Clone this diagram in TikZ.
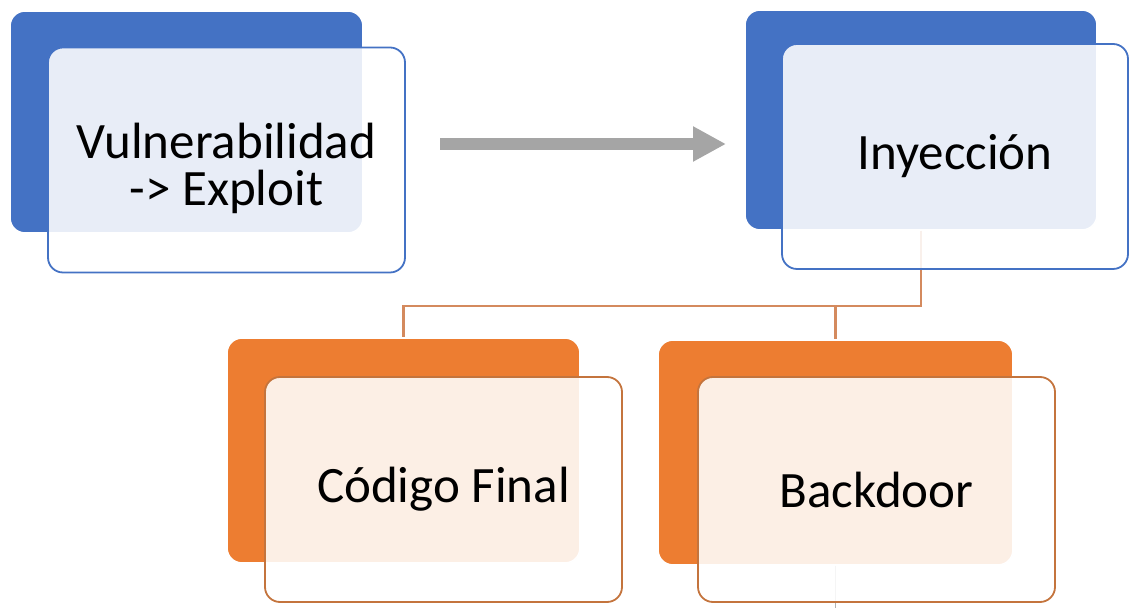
\documentclass[tikz,border=0pt]{standalone}
\usepackage{fontspec}
\setmainfont{Carlito}
\usetikzlibrary{arrows.meta,positioning}
\definecolor{accblue}{HTML}{4472C4}
\definecolor{accorange}{HTML}{ED7D31}
\definecolor{linkorange}{HTML}{D48A5E}
\definecolor{arrowgray}{HTML}{A5A5A5}
\tikzset{
  backbox/.style={rectangle,rounded corners=7.5pt,minimum width=176.5pt,minimum height=111pt,draw=white,line width=0.8pt},
  frontbox/.style={rectangle,rounded corners=7.5pt,minimum width=178.5pt,minimum height=112.5pt,fill=white,fill opacity=0.88,text opacity=1,line width=0.9pt,font=\fontsize{25.5}{23.5}\selectfont,align=center},
  link/.style={draw=linkorange,line width=1.3pt}
}

\begin{document}
\begin{tikzpicture}[x=0.5pt,y=-0.5pt]
\useasboundingbox (0,0) rectangle (1130,608);
% \draw[help lines,step=50] (0,0) grid (1130,608);
\node (vulB) [backbox,fill=accblue] at (186.5,122) {};
\node (inyB) [backbox,fill=accblue,minimum width=176pt,minimum height=110pt] at (921,120) {};
\node (codB) [backbox,fill=accorange,minimum height=112.5pt] at (403.5,450.5) {};
\node (bakB) [backbox,fill=accorange,minimum width=177.5pt,minimum height=112.5pt] at (835.5,452.5) {};
%
\coordinate (bus) at (0,306);
\coordinate (out) at (0,608);
\path[link] (inyB.south) -- (inyB.south |- bus) -| (codB.north);
\path[link] (bakB.north |- bus) -- (bakB.north);
\path[draw=gray!60,line width=0.8pt] (bakB.south) -- (bakB.south |- out);
%
\node (vulF) [frontbox,draw=accblue] at (226.5,160) {\rule{0pt}{26pt}Vulnerabilidad\\-> Exploit};
\node (inyF) [frontbox,draw=accblue,minimum width=173pt] at (955,156.5) {Inyección};
\node (codF) [frontbox,draw=accorange!80!black!90] at (443.5,489.5) {Código Final};
\node (bakF) [frontbox,draw=accorange!80!black!90] at (876.5,489.5) {Backdoor};
%
\coordinate (arrS) at (440,144);
\coordinate (arrE) at (726,144);
\path[-{Triangle[length=16.5pt,width=16.5pt]},draw=arrowgray,line width=6pt] (arrS) -- (arrE);
\end{tikzpicture}
\end{document}
